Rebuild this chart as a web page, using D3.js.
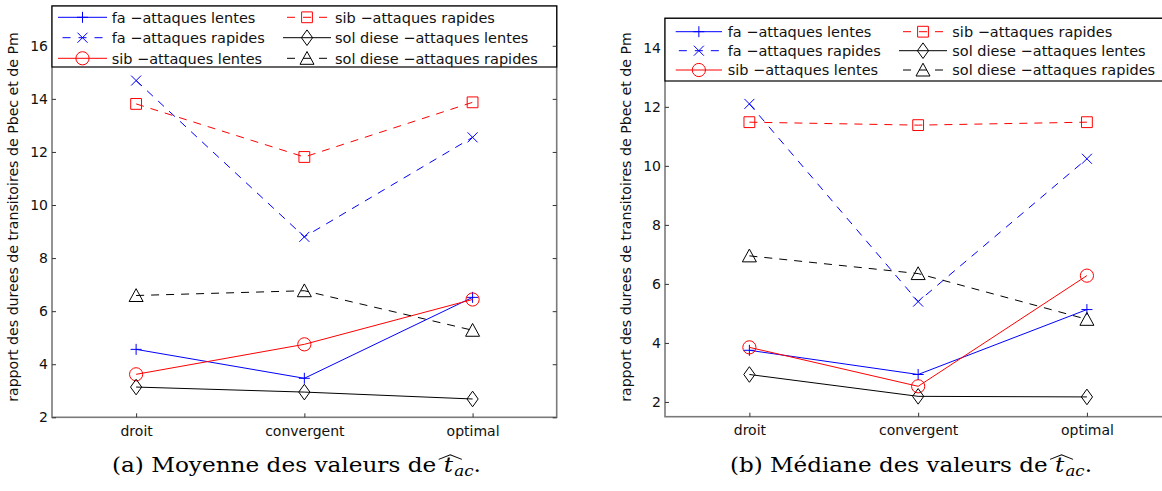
<!DOCTYPE html>
<html><head><meta charset="utf-8">
<script src="https://cdn.jsdelivr.net/npm/d3@7"></script>
<style>body{margin:0;background:#fff} svg{display:block} text{white-space:pre}</style>
</head><body><svg id="c" width="1162" height="491"></svg>
<script>
const categories = ["droit", "convergent", "optimal"];
const seriesLabels = ["fa \u2212attaques lentes", "fa \u2212attaques rapides", "sib \u2212attaques lentes",
  "sib \u2212attaques rapides", "sol diese \u2212attaques lentes", "sol diese \u2212attaques rapides"];
const seriesColors = ["#0000ff", "#0000ff", "#ff0000", "#ff0000", "#000000", "#000000"];
const seriesDashed = [false, true, false, true, false, true];
const seriesMarkers = ["plus", "cross", "circle", "square", "diamond", "triangle"];

// (a) Moyenne
const moyFaLentes   = [4.56, 3.47, 6.52];
const moyFaRapides  = [14.69, 8.80, 12.55];
const moySibLentes  = [3.62, 4.75, 6.44];
const moySibRapides = [13.81, 11.81, 13.87];
const moySolLentes  = [3.14, 2.95, 2.69];
const moySolRapides = [6.59, 6.77, 5.28];
// (b) Mediane
const medFaLentes   = [3.75, 2.93, 5.13];
const medFaRapides  = [12.10, 5.40, 10.24];
const medSibLentes  = [3.85, 2.53, 6.28];
const medSibRapides = [11.48, 11.38, 11.48];
const medSolLentes  = [2.93, 2.19, 2.17];
const medSolRapides = [6.95, 6.35, 4.80];

const yTicksA = [2, 4, 6, 8, 10, 12, 14, 16];
const yTicksB = [2, 4, 6, 8, 10, 12, 14];
const yDomainA = [2, 17.5];
const yDomainB = [1.5, 15];
const yLabel = "rapport des durees de transitoires de Pbec et de Pm";
const captionA = ["(a) Moyenne des valeurs de ", "t", "ac", "."];
const captionB = ["(b) M\u00e9diane des valeurs de ", "t", "ac", "."];

const svg = d3.select("#c");
const SANS = "'DejaVu Sans', sans-serif";
const SERIF = "'DejaVu Serif', 'Liberation Serif', serif";

const markerPaths = {
  plus: "M-5.5,0H5.5M0,-5.5V5.5",
  cross: "M-5,-5L5,5M-5,5L5,-5",
  square: "M-5.4,-5.4h10.8v10.8h-10.8z",
  diamond: "M0,-7.8L5.6,0L0,7.8L-5.6,0Z",
  triangle: "M0,-6.8L7,6H-7Z"
};
function drawMarker(g, type, x, y, color) {
  if (type === "circle") {
    g.append("circle").attr("cx", x).attr("cy", y).attr("r", 6.6)
      .attr("fill", "none").attr("stroke", color).attr("stroke-width", 1);
  } else {
    g.append("path").attr("d", markerPaths[type]).attr("transform", `translate(${x},${y})`)
      .attr("fill", "none").attr("stroke", color).attr("stroke-width", 1);
  }
}

const panels = [
  { L: 52, R: 556.7, B: 417.3, T: 6, domain: yDomainA, ticks: yTicksA,
    data: [moyFaLentes, moyFaRapides, moySibLentes, moySibRapides, moySolLentes, moySolRapides],
    legend: { rows: [17.3, 37.7, 58.3], cols: [[58, 107, 111.7], [283, 331, 335]], bottom: 67, right: 556.7 },
    ylabX: 14, caption: captionA, capX: 296.4, capW: 369 },
  { L: 665, R: 1171.3, B: 416.7, T: 18.3, domain: yDomainB, ticks: yTicksB,
    data: [medFaLentes, medFaRapides, medSibLentes, medSibRapides, medSolLentes, medSolRapides],
    legend: { rows: [31.7, 50.7, 70], cols: [[675.7, 722, 727.7], [899, 947, 952.3]], bottom: 81, right: 1200 },
    ylabX: 627, caption: captionB, capX: 911, capW: 362 }
];

panels.forEach(p => {
  const x = d3.scalePoint().domain(categories).range([p.L, p.R]).padding(0.5);
  const y = d3.scaleLinear().domain(p.domain).range([p.B, p.T]);
  const g = svg.append("g");

  g.append("rect").attr("x", p.L).attr("y", p.T).attr("width", p.R - p.L).attr("height", p.B - p.T)
    .attr("fill", "none").attr("stroke", "#7a7a7a").attr("stroke-width", 1.6);

  const styleAxis = ax => {
    ax.select(".domain").remove();
    ax.selectAll(".tick line").attr("stroke", "#333").attr("stroke-width", 1);
    ax.selectAll("text").attr("font-family", SANS).attr("font-size", 14).attr("fill", "#111");
  };
  g.append("g").attr("transform", `translate(${p.L},0)`)
    .call(d3.axisLeft(y).tickValues(p.ticks).tickFormat(d3.format("d")).tickSize(-4).tickPadding(4))
    .call(styleAxis);
  g.append("g").attr("transform", `translate(0,${p.B})`)
    .call(d3.axisBottom(x).tickSize(-4).tickPadding(8.5))
    .call(styleAxis);
  g.append("g").attr("transform", `translate(0,${p.T})`)
    .call(d3.axisTop(x).tickSize(-4).tickFormat(""))
    .call(styleAxis);

  p.data.forEach((vals, i) => {
    const line = d3.line().x((d, k) => x(categories[k])).y(d => y(d));
    g.append("path").datum(vals).attr("d", line).attr("fill", "none")
      .attr("stroke", seriesColors[i]).attr("stroke-width", 1)
      .attr("stroke-dasharray", seriesDashed[i] ? "8,7" : null);
    vals.forEach((v, k) => drawMarker(g, seriesMarkers[i], x(categories[k]), y(v), seriesColors[i]));
  });

  const lg = p.legend;
  g.append("rect").attr("x", p.L).attr("y", p.T).attr("width", lg.right - p.L).attr("height", lg.bottom - p.T)
    .attr("fill", "#fff").attr("stroke", "#000").attr("stroke-width", 1.2);
  seriesLabels.forEach((lab, i) => {
    const col = lg.cols[Math.floor(i / 3)];
    const ry = lg.rows[i % 3];
    const cx = (col[0] + col[1]) / 2;
    g.append("line").attr("x1", col[0]).attr("x2", col[1]).attr("y1", ry).attr("y2", ry)
      .attr("stroke", seriesColors[i]).attr("stroke-width", 1)
      .attr("stroke-dasharray", seriesDashed[i] ? "8,8" : null)
      .attr("stroke-dashoffset", seriesDashed[i] ? (16 - ((cx - 4 - col[0]) % 16)) : null);
    drawMarker(g, seriesMarkers[i], cx, ry, seriesColors[i]);
    g.append("text").attr("x", col[2]).attr("y", ry + 5.4).attr("font-family", SANS)
      .attr("font-size", 14.5).attr("fill", "#111").text(lab);
  });

  g.append("g").attr("transform", `translate(${p.R},0)`)
    .call(d3.axisRight(y).tickValues(p.ticks).tickSize(-4).tickFormat(""))
    .call(styleAxis);

  const yl = g.append("text").attr("font-family", SANS).attr("font-size", 12).attr("fill", "#111")
    .attr("text-anchor", "middle")
    .attr("transform", `translate(${p.ylabX + 4},217) rotate(-90)`).text(yLabel);
  const w0 = yl.node().getComputedTextLength();
  yl.attr("font-size", 12 * 370 / w0);

  // caption
  const cap = p.caption;
  const cg = g.append("g");
  const base = 472.5;
  const fs = 20.5;
  const mk = (s, italic, f) => cg.append("text").attr("font-family", SERIF).attr("font-size", f)
    .attr("font-style", italic ? "italic" : null).attr("fill", "#000").text(s);
  const parts = [mk(cap[0], false, fs), mk(cap[1], true, fs), mk(cap[2], true, fs * 0.72), mk(cap[3], false, fs)];
  const ws = parts.map(t => t.node().getComputedTextLength());
  const total = ws[0] + ws[1] + ws[2] + ws[3] + 1;
  let cx0 = p.capX - total / 2;
  parts[0].attr("x", cx0).attr("y", base); cx0 += ws[0];
  parts[1].attr("x", cx0).attr("y", base);
  const hx = cx0 + ws[1] / 2 + fs * 0.08;
  cx0 += ws[1] + 1;
  parts[2].attr("x", cx0).attr("y", base + fs * 0.17); cx0 += ws[2];
  parts[3].attr("x", cx0).attr("y", base);
  cg.append("path").attr("d", `M${hx - fs * 0.5},${base - fs * 0.64} L${hx},${base - fs * 0.86} L${hx + fs * 0.5},${base - fs * 0.64}`)
    .attr("fill", "none").attr("stroke", "#000").attr("stroke-width", 1);
  const sx = p.capW / total;
  cg.attr("transform", `translate(${p.capX},0) scale(${sx},1) translate(${-p.capX},0)`);
});
</script></body></html>
